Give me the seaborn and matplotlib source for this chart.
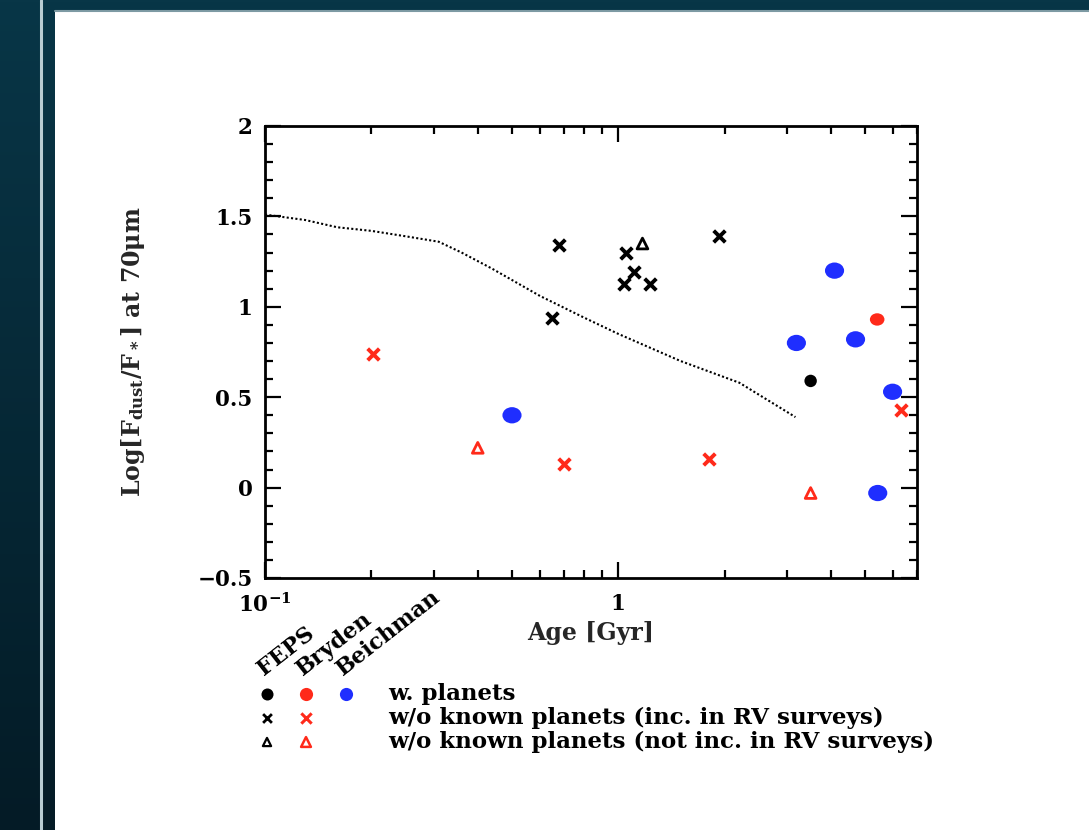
import matplotlib
matplotlib.use("Agg")
import numpy as np
import pandas as pd
import matplotlib.pyplot as plt
import seaborn as sns
from matplotlib.patches import Rectangle
from matplotlib.lines import Line2D
from matplotlib.path import Path
from matplotlib.transforms import Affine2D
from matplotlib.ticker import FixedLocator, FixedFormatter, LogLocator, NullFormatter, MultipleLocator

# ---------------- data ----------------
feps_planet_age = [3.5]
feps_planet_flux = [0.59]
bryden_planet_age = [5.4]
bryden_planet_flux = [0.93]
beichman_planet_age = [0.50, 3.19, 4.09, 4.69, 5.97, 5.42]
beichman_planet_flux = [0.40, 0.80, 1.20, 0.82, 0.53, -0.03]

feps_rv_age = [0.68, 0.65, 1.05, 1.11, 1.04, 1.23, 1.93]
feps_rv_flux = [1.34, 0.94, 1.30, 1.19, 1.125, 1.125, 1.39]
bryden_rv_age = [0.202, 0.70, 1.80, 6.3]
bryden_rv_flux = [0.74, 0.133, 0.16, 0.43]

feps_norv_age = [1.17]
feps_norv_flux = [1.35]
bryden_norv_age = [0.40, 3.5]
bryden_norv_flux = [0.22, -0.03]

model_age = [0.1, 0.13, 0.16, 0.2, 0.25, 0.31, 0.36, 0.44, 0.6, 0.8, 1.0, 1.5, 2.2, 3.17]
model_flux = [1.51, 1.48, 1.44, 1.42, 1.39, 1.36, 1.30, 1.21, 1.06, 0.94, 0.85, 0.70, 0.58, 0.39]

x_ticks = [0.1, 1]
x_ticklabels = [r"10$^{-1}$", "1"]
y_ticks = [-0.5, 0, 0.5, 1, 1.5, 2]
y_ticklabels = ["\u22120.5", "0", "0.5", "1", "1.5", "2"]

survey_names = ["FEPS", "Bryden", "Beichman"]
legend_texts = ["w. planets",
                "w/o known planets (inc. in RV surveys)",
                "w/o known planets (not inc. in RV surveys)"]

# ---------------- style ----------------
sns.set_theme(style="ticks")
plt.rcParams["font.family"] = ["DejaVu Serif"]
plt.rcParams["font.weight"] = "bold"
plt.rcParams["mathtext.fontset"] = "dejavuserif"
plt.rcParams["mathtext.default"] = "bf"

W, H = 1089, 830
fig = plt.figure(figsize=(W / 100, H / 100), dpi=100)

# dark gradient background
bg = fig.add_axes([0, 0, 1, 1], zorder=0)
top = np.array([0x08, 0x36, 0x47]) / 255
bot = np.array([0x04, 0x1b, 0x26]) / 255
t = np.linspace(0, 1, 256)[:, None]
grad = (top[None, :] * (1 - t) + bot[None, :] * t)[:, None, :]
grad = np.repeat(grad, 2, axis=1)
bg.imshow(grad, aspect="auto", extent=[0, 1, 0, 1], origin="upper")
bg.set_axis_off()

# white slide panel and thin light lines
fig.add_artist(Rectangle((55 / W, 0), 1 - 55 / W, 1 - 12 / H,
                         transform=fig.transFigure, facecolor="white",
                         edgecolor="none", zorder=1))
fig.add_artist(Line2D([41 / W, 41 / W], [0, 1], transform=fig.transFigure,
                      color="#b9cdd3", lw=2.2, zorder=1))
fig.add_artist(Line2D([55 / W, 1], [1 - 11 / H, 1 - 11 / H], transform=fig.transFigure,
                      color="#7d9aa3", lw=1.5, zorder=1))

# ---------------- main axes ----------------
ax = fig.add_axes([265 / W, 1 - 578 / H, (917 - 265) / W, (578 - 126) / H], zorder=2)
ax.set_facecolor("white")

ellipse = Path.unit_circle().transformed(Affine2D().scale(1.0, 0.85))

def scat(x, y, color, marker, s, filled=True, lw=0):
    df = pd.DataFrame({"age": x, "flux": y})
    if filled:
        sns.scatterplot(data=df, x="age", y="flux", ax=ax, color=color, marker=marker,
                        s=s, linewidth=0, edgecolor="none", zorder=4)
    elif marker == "x":
        sns.scatterplot(data=df, x="age", y="flux", ax=ax, color=color, marker=marker,
                        s=s, linewidth=lw, zorder=4)
    else:
        sns.scatterplot(data=df, x="age", y="flux", ax=ax, marker=marker, s=s,
                        facecolor="none", edgecolor=color, linewidth=lw, zorder=4)

model_df = pd.DataFrame({"age": model_age, "flux": model_flux})
sns.lineplot(data=model_df, x="age", y="flux", ax=ax, color="black", lw=1.5,
             linestyle=(0, (1.0, 1.1)), zorder=3, sort=False)

scat(beichman_planet_age, beichman_planet_flux, "#1f2eff", ellipse, 190)
scat(bryden_planet_age, bryden_planet_flux, "#ff2a1a", ellipse, 110)
scat(feps_planet_age, feps_planet_flux, "black", "o", 80)
scat(feps_rv_age, feps_rv_flux, "black", "x", 70, filled=False, lw=2.8)
scat(bryden_rv_age, bryden_rv_flux, "#ff2a1a", "x", 70, filled=False, lw=2.8)
scat(feps_norv_age, feps_norv_flux, "black", "^", 60, filled=False, lw=2.0)
scat(bryden_norv_age, bryden_norv_flux, "#ff2a1a", "^", 60, filled=False, lw=2.0)

ax.set_xscale("log")
ax.set_xlim(0.1, 7.0)
ax.set_ylim(-0.5, 2.0)
ax.xaxis.set_major_locator(FixedLocator(x_ticks))
ax.xaxis.set_major_formatter(FixedFormatter(x_ticklabels))
ax.xaxis.set_minor_locator(LogLocator(base=10, subs=np.arange(2, 10)))
ax.xaxis.set_minor_formatter(NullFormatter())
ax.yaxis.set_major_locator(FixedLocator(y_ticks))
ax.yaxis.set_major_formatter(FixedFormatter(y_ticklabels))
ax.yaxis.set_minor_locator(MultipleLocator(0.1))

ax.tick_params(which="both", direction="in", top=True, right=True, colors="black",
               labelsize=15.5, width=1.6)
ax.tick_params(axis="x", which="major", pad=11)
ax.tick_params(axis="y", which="major", pad=9)
ax.tick_params(which="major", length=11.5)
ax.tick_params(which="minor", length=5.8)
for sp in ax.spines.values():
    sp.set_linewidth(2.0)
    sp.set_color("black")

ax.set_xlabel("Age [Gyr]", fontsize=17, fontweight="bold", labelpad=3)
ax.set_ylabel(r"Log[F$_{\rm dust}$/F$_{\bf *}$] at 70$\mu$m", fontsize=17,
              fontweight="bold", labelpad=36)

# ---------------- custom legend ----------------
lg = fig.add_axes([0, 0, 1, 1], zorder=3)
lg.set_xlim(0, W)
lg.set_ylim(H, 0)
lg.set_axis_off()

col_x = [267, 306, 346]
row_y = [694, 718, 742]
for name, cx in zip(survey_names, col_x):
    lg.text(cx - 3, 676, name, rotation=38, rotation_mode="anchor", ha="left",
            va="baseline", fontsize=16, fontweight="bold", color="black")

lg.scatter(col_x[0], row_y[0], s=75, color="black", marker="o", linewidths=0)
lg.scatter(col_x[1], row_y[0], s=90, color="#ff2a1a", marker="o", linewidths=0)
lg.scatter(col_x[2], row_y[0], s=90, color="#1f2eff", marker="o", linewidths=0)
lg.scatter(col_x[0], row_y[1], s=40, color="black", marker="x", linewidths=2.0)
lg.scatter(col_x[1], row_y[1], s=55, color="#ff2a1a", marker="x", linewidths=2.2)
lg.scatter(col_x[0], row_y[2], s=35, facecolor="none", edgecolor="black", marker="^", linewidths=1.6)
lg.scatter(col_x[1], row_y[2], s=50, facecolor="none", edgecolor="#ff2a1a", marker="^", linewidths=1.8)
for txt, ry in zip(legend_texts, row_y):
    lg.text(388, ry, txt, ha="left", va="center", fontsize=16.5, fontweight="bold",
            color="black")

fig.savefig("out.png", dpi=100)
